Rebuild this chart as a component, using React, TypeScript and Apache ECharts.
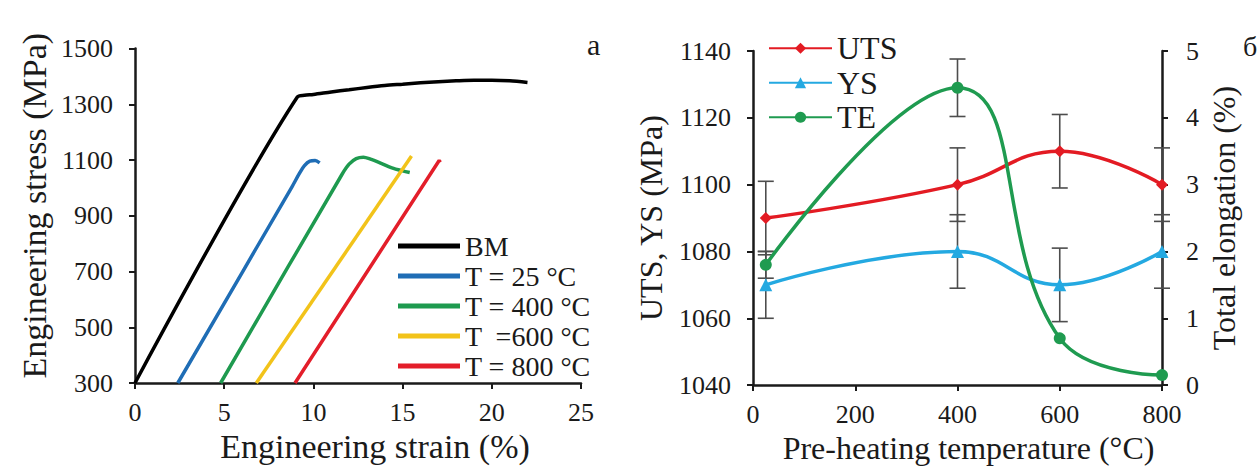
import React, { useEffect, useRef } from "react";
import * as echarts from "echarts";

const FONT = "'Liberation Serif', 'Times New Roman', serif";
const INK = "#1a1a1a";

// ---- Panel a: stress-strain curves [strain %, stress MPa]
const bmCurve = [
  [0, 300], [9.1, 1326], [9.5, 1332], [10, 1335], [11, 1344], [12, 1352], [13, 1360],
  [14, 1367], [15, 1372], [16, 1377], [17, 1381], [18, 1384], [19, 1386], [20, 1386],
  [21, 1384], [22, 1378],
];
const t25Curve = [
  [2.4, 300], [8.8, 1004], [9.2, 1050], [9.5, 1080], [9.8, 1096], [10.1, 1098], [10.35, 1090],
];
const t400Curve = [
  [4.8, 300], [11.6, 1048], [12.0, 1085], [12.4, 1105], [12.8, 1110], [13.2, 1103],
  [13.8, 1088], [14.4, 1072], [15.0, 1061], [15.4, 1055],
];
const t600Curve = [[6.8, 300], [15.5, 1114]];
const t800Curve = [[8.97, 300], [17.05, 1098], [17.12, 1092]];

const curvesA = [bmCurve, t25Curve, t400Curve, t600Curve, t800Curve];
const namesA = ["BM", "T = 25 °C", "T = 400 °C", "T  =600 °C", "T = 800 °C"];
const colorsA = ["#000000", "#1f6db5", "#1e9a4f", "#f2c31a", "#e31e2a"];
const smoothA = [0.3, 0.3, 0.3, false, false];

// ---- Panel б: properties vs pre-heating temperature
const temps = [25, 400, 600, 800];
const uts = [1090, 1100, 1110, 1100];
const ys = [1070, 1080, 1070, 1080];
const te = [1.8, 4.45, 0.7, 0.15];
const utsErr = [11, 11, 11, 11];
const ysErr = [10, 11, 11, 11];
const teErr = [0.2, 0.43, 0, 0];

const namesB = ["UTS", "YS", "TE"];
const colorsB = ["#e31b23", "#24a9e1", "#1f9b50"];
const symbolsB = ["diamond", "triangle", "circle"];

const plain = (v: number) => String(v);

function axisBase(extra: any) {
  return {
    axisLine: { show: true, onZero: false, lineStyle: { color: INK, width: 2.5 } },
    axisTick: { show: true, inside: false, length: 6, lineStyle: { color: INK, width: 2 } },
    splitLine: { show: false },
    nameLocation: "middle",
    ...extra,
  };
}

function errorRender(params: any, api: any) {
  const x = api.value(0);
  const lo = api.value(1);
  const hi = api.value(2);
  const p1 = api.coord([x, hi]);
  const p2 = api.coord([x, lo]);
  const w = 8;
  const st = { stroke: "#4d4d4d", lineWidth: 1.6 };
  return {
    type: "group",
    children: [
      { type: "line", shape: { x1: p1[0], y1: p1[1], x2: p2[0], y2: p2[1] }, style: st },
      { type: "line", shape: { x1: p1[0] - w, y1: p1[1], x2: p1[0] + w, y2: p1[1] }, style: st },
      { type: "line", shape: { x1: p2[0] - w, y1: p2[1], x2: p2[0] + w, y2: p2[1] }, style: st },
    ],
  };
}

const label = (margin: number) => ({
  color: INK, fontFamily: FONT, fontSize: 26, margin, formatter: plain,
});

export default function App() {
  const ref = useRef<HTMLDivElement>(null);
  useEffect(() => {
    const chart = echarts.init(ref.current!, null, { renderer: "svg" });

    const seriesA = curvesA.map((c, i) => ({
      type: "line",
      name: namesA[i],
      xAxisIndex: 0,
      yAxisIndex: 0,
      data: c,
      smooth: smoothA[i],
      symbol: "none",
      lineStyle: { color: colorsA[i], width: 3.5 },
      itemStyle: { color: colorsA[i] },
      z: 3,
    }));

    const valsB = [uts, ys, te];
    const seriesB = valsB.map((v, i) => ({
      type: "line",
      name: namesB[i],
      xAxisIndex: 1,
      yAxisIndex: i === 2 ? 2 : 1,
      data: temps.map((t, j) => [t, v[j]]),
      smooth: 0.45,
      symbol: symbolsB[i],
      symbolSize: i === 1 ? 13 : 12,
      lineStyle: { color: colorsB[i], width: 3.5 },
      itemStyle: { color: colorsB[i] },
      z: 3,
    }));

    const errSeries = [
      { vals: uts, err: utsErr, y: 1 },
      { vals: ys, err: ysErr, y: 1 },
      { vals: te, err: teErr, y: 2 },
    ].map((e) => ({
      type: "custom",
      xAxisIndex: 1,
      yAxisIndex: e.y,
      renderItem: errorRender,
      encode: { x: 0, y: [1, 2] },
      data: temps
        .map((t, j) => [t, e.vals[j] - e.err[j], e.vals[j] + e.err[j]])
        .filter((d) => d[2] - d[1] > 0),
      z: 2,
      silent: true,
    }));

    const option: any = {
      animation: false,
      backgroundColor: "#ffffff",
      grid: [
        { left: 135, right: 677, top: 48.5, bottom: 86 },
        { left: 753, right: 96, top: 51, bottom: 83 },
      ],
      xAxis: [
        axisBase({
          gridIndex: 0, type: "value", min: 0, max: 25, interval: 5,
          name: "Engineering strain (%)", nameGap: 45,
          nameTextStyle: { color: INK, fontFamily: FONT, fontSize: 34, padding: [0, 0, 0, 34] },
          axisLabel: label(16),
        }),
        axisBase({
          gridIndex: 1, type: "value", min: 0, max: 800, interval: 200,
          name: "Pre-heating temperature (°C)", nameGap: 45,
          nameTextStyle: { color: INK, fontFamily: FONT, fontSize: 32, padding: [0, 0, 0, 22] },
          axisLabel: label(16),
        }),
      ],
      yAxis: [
        axisBase({
          gridIndex: 0, type: "value", min: 300, max: 1500, interval: 200,
          name: "Engineering stress (MPa)", nameGap: 84, nameRotate: 90,
          nameTextStyle: { color: INK, fontFamily: FONT, fontSize: 34, padding: [0, 0, 0, 20] },
          axisLabel: label(22),
        }),
        axisBase({
          gridIndex: 1, type: "value", min: 1040, max: 1140, interval: 20,
          name: "UTS, YS (MPa)", nameGap: 86, nameRotate: 90,
          nameTextStyle: { color: INK, fontFamily: FONT, fontSize: 32 },
          axisLabel: label(22),
        }),
        axisBase({
          gridIndex: 1, type: "value", position: "right", min: 0, max: 5, interval: 1,
          name: "Total elongation (%)", nameGap: 46, nameRotate: 90,
          nameTextStyle: { color: INK, fontFamily: FONT, fontSize: 32 },
          axisLabel: label(24),
        }),
      ],
      legend: [
        {
          data: namesA,
          orient: "vertical",
          left: 393,
          top: 226,
          itemGap: 0,
          itemWidth: 62,
          itemHeight: 5,
          icon: "rect",
          textStyle: { color: INK, fontFamily: FONT, fontSize: 28, lineHeight: 30 },
          selectedMode: false,
        },
        {
          data: namesB,
          orient: "vertical",
          left: 763,
          top: 26,
          itemGap: 0,
          itemWidth: 63,
          itemHeight: 14,
          textStyle: { color: INK, fontFamily: FONT, fontSize: 32, lineHeight: 34.5 },
          selectedMode: false,
        },
      ],
      graphic: [
        {
          type: "text",
          x: 587,
          y: 44,
          style: { text: "a", font: `30px ${FONT}`, fill: INK, textAlign: "left", textVerticalAlign: "middle" },
        },
        {
          type: "text",
          x: 1243,
          y: 46,
          style: { text: "б", font: `28px ${FONT}`, fill: INK, textAlign: "left", textVerticalAlign: "middle" },
        },
      ],
      series: [...seriesA, ...errSeries, ...seriesB],
    };

    chart.setOption(option);
    return () => chart.dispose();
  }, []);

  return (
    <div
      ref={ref}
      style={{ position: "fixed", left: 0, top: 0, width: 1258, height: 469, background: "#fff" }}
    />
  );
}
